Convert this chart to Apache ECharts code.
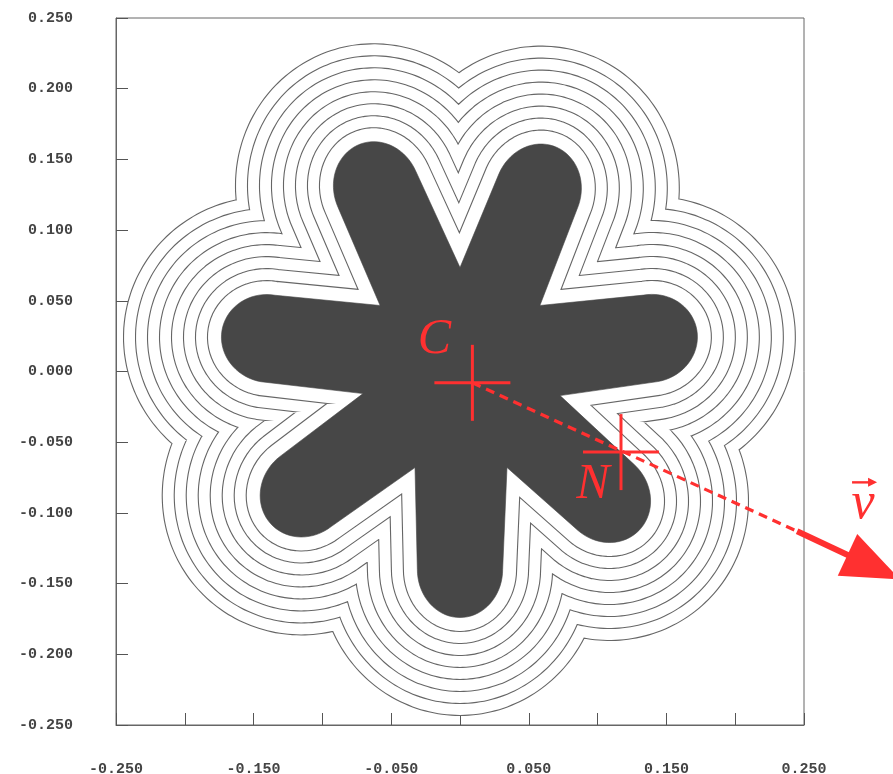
<!DOCTYPE html>
<html>
<head>
<meta charset="utf-8">
<script src="https://cdn.jsdelivr.net/npm/echarts@6/dist/echarts.min.js"></script>
<style>
  html, body { margin: 0; padding: 0; background: #ffffff; }
  #chart { width: 893px; height: 774px; }
</style>
</head>
<body>
<div id="chart"></div>
<script>
// ---- flower: seven petals around the centre ----
const flowerCentre = [0.0, 0.0];
// petal axes (degrees, counter-clockwise from +x) and tip distance from the centre
const petalAngles  = [9.6, 66.0, 115.1, 170.5, 217.1, 270.0, 320.0];
const petalLengths = [0.1746, 0.1734, 0.1765, 0.1754, 0.1748, 0.1740, 0.1720];
// notches between petal k and petal k+1 (degrees, distance from the centre)
const notchAngles  = [38.8, 90.0, 141.2, 192.5, 244.3, 296.7, 346.8];
const notchRadii   = [0.0745, 0.0735, 0.0745, 0.0722, 0.0754, 0.0760, 0.0747];
// petal half width and length of its rounded end
const petalHalfWidth = 0.031;
const petalCapLength = 0.034;

// distances of the level curves from the flower
const contourOffsets = [0.0100, 0.0186, 0.0272, 0.0358, 0.0444, 0.0530, 0.0616, 0.0702];

// ---- annotations ----
const markerNames = ['C', 'N'];
const markerX = [0.009, 0.117];
const markerY = [-0.008, -0.057];
const vectorDashEnd = [0.245, -0.113];
const vectorTip = [0.3198, -0.147];
const vectorName = 'v';

// ---- axis tick labels ----
const xTickLabels = ['-0.250', '-0.150', '-0.050', '0.050', '0.150', '0.250'];
const yTickLabels = ['-0.250', '-0.200', '-0.150', '-0.100', '-0.050', '0.000',
                     '0.050', '0.100', '0.150', '0.200', '0.250'];

// closed outline of the flower in data coordinates
function petalPoints(i) {
  const a = petalAngles[i] * Math.PI / 180;
  const L = petalLengths[i];
  const ux = Math.cos(a), uy = Math.sin(a), vx = -uy, vy = ux;
  const c0 = L - petalCapLength;
  const pts = [];
  for (let t = -90; t <= 90; t += 5) {
    const r = t * Math.PI / 180;
    const u = c0 + petalCapLength * Math.cos(r);
    const v = petalHalfWidth * Math.sin(r);
    pts.push([flowerCentre[0] + u * ux + v * vx, flowerCentre[1] + u * uy + v * vy]);
  }
  return pts;
}
function notchPoint(k) {
  const a = notchAngles[k] * Math.PI / 180;
  return [flowerCentre[0] + notchRadii[k] * Math.cos(a), flowerCentre[1] + notchRadii[k] * Math.sin(a)];
}
const flowerOutline = [];
for (let i = 0; i < petalAngles.length; i++) {
  flowerOutline.push(notchPoint((i - 1 + notchAngles.length) % notchAngles.length));
  petalPoints(i).forEach(p => flowerOutline.push(p));
}

function tickText(list, v) {
  const s = Math.abs(v) < 1e-9 ? '0.000' : v.toFixed(3);
  return list.indexOf(s) >= 0 ? s : '';
}

const INK = '#666666';
const RED = '#ff3030';
const FLOWER = '#474747';
const LEVEL_LINE = 1.1;

function renderFlower(params, api) {
  const pts = flowerOutline.map(p => api.coord(p));
  const s = api.size([1, 1]);
  const pxPerUnit = (s[0] + s[1]) / 2;
  const children = [];
  const offsets = contourOffsets.slice().sort((a, b) => b - a);
  offsets.forEach(d => {
    const w = 2 * d * pxPerUnit;
    children.push({ type: 'polygon', shape: { points: pts },
      style: { fill: 'none', stroke: INK, lineWidth: w + LEVEL_LINE, lineJoin: 'round' } });
    children.push({ type: 'polygon', shape: { points: pts },
      style: { fill: 'none', stroke: '#ffffff', lineWidth: w - LEVEL_LINE, lineJoin: 'round' } });
  });
  children.push({ type: 'polygon', shape: { points: pts },
    style: { fill: FLOWER, stroke: FLOWER, lineWidth: 0.6, lineJoin: 'round' } });
  return { type: 'group', children: children };
}

const CROSS_ARM = 38;
const labelOffsets = [[-38, -43], [-28, 33]];

function renderNotes(params, api) {
  const children = [];
  const c = api.coord([markerX[0], markerY[0]]);
  const e = api.coord(vectorDashEnd);
  const tip = api.coord(vectorTip);
  let dx = tip[0] - e[0], dy = tip[1] - e[1];
  const len = Math.hypot(dx, dy); dx /= len; dy /= len;
  const headLen = 58, headHalf = 23;
  const base = [tip[0] - dx * headLen, tip[1] - dy * headLen];
  children.push({ type: 'line', shape: { x1: c[0], y1: c[1], x2: e[0], y2: e[1] },
    style: { stroke: RED, lineWidth: 3.2, lineDash: [9, 6] } });
  children.push({ type: 'line', shape: { x1: e[0], y1: e[1], x2: base[0] + dx * 2, y2: base[1] + dy * 2 },
    style: { stroke: RED, lineWidth: 6 } });
  children.push({ type: 'polygon', shape: { points: [tip,
      [base[0] - dy * headHalf, base[1] + dx * headHalf],
      [base[0] + dy * headHalf, base[1] - dx * headHalf]] },
    style: { fill: RED } });

  for (let i = 0; i < markerNames.length; i++) {
    const p = api.coord([markerX[i], markerY[i]]);
    children.push({ type: 'line', shape: { x1: p[0] - CROSS_ARM, y1: p[1], x2: p[0] + CROSS_ARM, y2: p[1] },
      style: { stroke: RED, lineWidth: 3 } });
    children.push({ type: 'line', shape: { x1: p[0], y1: p[1] - CROSS_ARM, x2: p[0], y2: p[1] + CROSS_ARM },
      style: { stroke: RED, lineWidth: 3 } });
    children.push({ type: 'text', style: {
      text: markerNames[i], x: p[0] + labelOffsets[i][0], y: p[1] + labelOffsets[i][1],
      fill: RED, fontSize: 50, fontStyle: 'italic', fontFamily: 'Liberation Serif',
      align: 'center', verticalAlign: 'middle' } });
  }

  // vector name with its arrow accent
  const vx = tip[0] - 37, vy = tip[1] - 75;
  children.push({ type: 'text', style: {
    text: vectorName, x: vx, y: vy, fill: RED, fontSize: 52, fontStyle: 'italic',
    fontFamily: 'Liberation Serif', align: 'center', verticalAlign: 'middle' } });
  const ay = vy - 22;
  children.push({ type: 'line', shape: { x1: vx - 11, y1: ay, x2: vx + 9, y2: ay },
    style: { stroke: RED, lineWidth: 2.4 } });
  children.push({ type: 'polygon', shape: { points: [[vx + 14, ay], [vx + 5, ay - 4.5], [vx + 5, ay + 4.5]] },
    style: { fill: RED } });
  return { type: 'group', children: children };
}

const chart = echarts.init(document.getElementById('chart'), null, { renderer: 'canvas' });
const axisFont = { color: '#444444', fontFamily: 'Liberation Mono', fontSize: 15, fontWeight: 'bold' };

chart.setOption({
  animation: false,
  backgroundColor: '#ffffff',
  grid: { left: 116, right: 89, top: 18, bottom: 49, containLabel: false, outerBoundsMode: 'none',
          show: true, borderColor: '#666666', borderWidth: 1, backgroundColor: 'transparent' },
  xAxis: {
    type: 'value', min: -0.25, max: 0.25, interval: 0.05,
    axisLine: { show: true, onZero: false, lineStyle: { color: '#666666', width: 1 } },
    axisTick: { show: true, inside: true, length: 12, lineStyle: { color: '#555555' } },
    axisLabel: Object.assign({ margin: 37, showMinLabel: true, showMaxLabel: true,
      formatter: v => tickText(xTickLabels, v) }, axisFont),
    splitLine: { show: false }
  },
  yAxis: {
    type: 'value', min: -0.25, max: 0.25, interval: 0.05,
    axisLine: { show: true, onZero: false, lineStyle: { color: '#666666', width: 1 } },
    axisTick: { show: true, inside: true, length: 12, lineStyle: { color: '#555555' } },
    axisLabel: Object.assign({ margin: 43, showMinLabel: true, showMaxLabel: true,
      formatter: v => tickText(yTickLabels, v) }, axisFont),
    splitLine: { show: false }
  },
  series: [
    { type: 'custom', coordinateSystem: 'cartesian2d', data: [[0, 0]], clip: true, silent: true,
      renderItem: renderFlower, z: 2 },
    { type: 'custom', coordinateSystem: 'cartesian2d', data: [[0, 0]], clip: false, silent: true,
      renderItem: renderNotes, z: 5 }
  ]
});
</script>
</body>
</html>
